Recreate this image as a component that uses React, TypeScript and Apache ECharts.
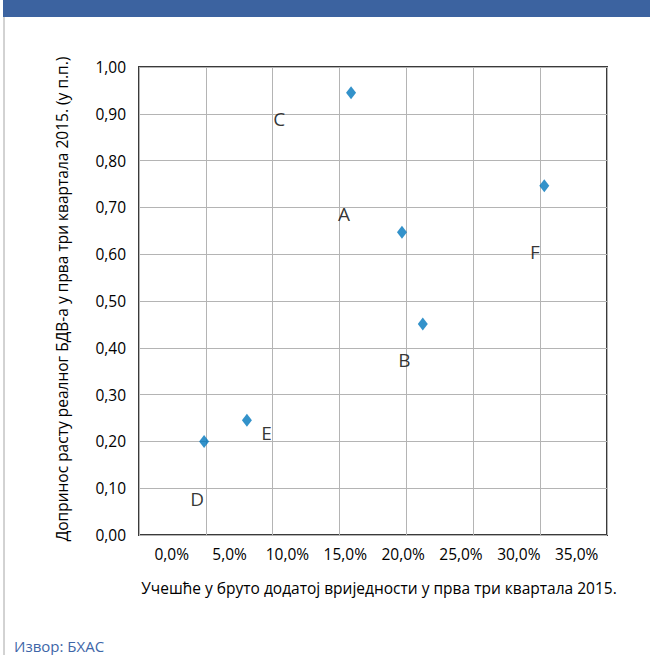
import React, { useEffect, useRef } from "react";
import * as echarts from "echarts";

// Data points (x: share in gross value added, %, y: contribution to real GVA growth, p.p.)
const pointX = [2.8, 6.5, 15.5, 19.9, 21.7, 32.2];
const pointY = [0.2, 0.245, 0.945, 0.647, 0.451, 0.746];

// Letter annotations
const letterNames = ["C", "A", "F", "B", "E", "D"];
const letterX = [9.3, 14.9, 31.4, 20.1, 8.2, 2.2];
const letterY = [0.888, 0.686, 0.605, 0.375, 0.219, 0.076];

// Tick labels
const xTickValues = [0, 5, 10, 15, 20, 25, 30, 35];

const xTitle = "Учешће у бруто додатој вриједности у прва три квартала 2015.";
const yTitle = "Допринос расту реалног БДВ-а у прва три квартала 2015. (у п.п.)";
const sourceText = "Извор: БХАС";

const FONT = "'Open Sans', 'Noto Sans', sans-serif";

export default function App() {
  const ref = useRef<HTMLDivElement>(null);

  useEffect(() => {
    if (!ref.current) return;
    const chart = echarts.init(ref.current, undefined, { renderer: "svg" });
    chart.setOption({
      animation: false,
      backgroundColor: "#ffffff",
      textStyle: { fontFamily: FONT },
      grid: {
        left: 139,
        top: 67,
        width: 468,
        height: 468,
        show: true,
        borderColor: "#3a3a3a",
        borderWidth: 2,
        backgroundColor: "transparent",
        containLabel: false,
      },
      xAxis: [
        {
          type: "value",
          min: -2.826,
          max: 37.62,
          position: "bottom",
          axisLine: { show: false },
          axisTick: { show: false },
          splitLine: { show: false },
          axisLabel: {
            customValues: xTickValues,
            formatter: (v: number) => v.toFixed(1).replace(".", ",") + "%",
            color: "#000",
            fontSize: 15.5,
            fontFamily: FONT,
            margin: 11,
          },
        },
        {
          type: "value",
          min: 0,
          max: 35,
          interval: 5,
          position: "bottom",
          axisLine: { show: false },
          axisTick: { show: false },
          axisLabel: { show: false },
          splitLine: { show: true, lineStyle: { color: "#b4b4b4", width: 1 } },
        },
      ],
      yAxis: {
        type: "value",
        min: 0,
        max: 1,
        interval: 0.1,
        axisLine: { show: false },
        axisTick: { show: false },
        splitLine: { show: true, lineStyle: { color: "#b4b4b4", width: 1 } },
        axisLabel: {
          formatter: (v: number) => v.toFixed(2).replace(".", ","),
          color: "#000",
          fontSize: 15.5,
          fontFamily: FONT,
          margin: 13,
        },
      },
      series: [
        {
          type: "scatter",
          xAxisIndex: 0,
          symbol: "diamond",
          symbolSize: [10, 13],
          itemStyle: { color: "#0077bd" },
          data: pointX.map((x, i) => [x, pointY[i]]),
        },
        {
          type: "scatter",
          xAxisIndex: 0,
          symbolSize: 0,
          silent: true,
          label: {
            show: true,
            position: "inside",
            formatter: (p: any) => p.name,
            color: "#000",
            fontSize: 19,
            fontFamily: FONT,
          },
          data: letterNames.map((n, i) => ({ name: n, value: [letterX[i], letterY[i]] })),
        },
      ],
      graphic: [
        {
          type: "rect",
          shape: { x: 3, y: 0, width: 647, height: 17 },
          style: { fill: "#3c63a0" },
        },
        {
          type: "line",
          shape: { x1: 4, y1: 17, x2: 4, y2: 655 },
          style: { stroke: "#a6a6a6", lineWidth: 1 },
        },
        {
          type: "text",
          x: 379,
          y: 588,
          style: {
            text: xTitle,
            fill: "#000",
            font: `15.5px ${FONT}`,
            textAlign: "center",
            textVerticalAlign: "middle",
          },
        },
        {
          type: "text",
          x: 62,
          y: 299,
          rotation: Math.PI / 2,
          style: {
            text: yTitle,
            fill: "#000",
            font: `15.5px ${FONT}`,
            textAlign: "center",
            textVerticalAlign: "middle",
          },
        },
        {
          type: "text",
          x: 14,
          y: 646,
          style: {
            text: sourceText,
            fill: "#3e66a8",
            font: `15px ${FONT}`,
            textAlign: "left",
            textVerticalAlign: "middle",
          },
        },
      ],
    });
    return () => chart.dispose();
  }, []);

  return (
    <div
      ref={ref}
      style={{ position: "absolute", left: 0, top: 0, width: 650, height: 655 }}
    />
  );
}
